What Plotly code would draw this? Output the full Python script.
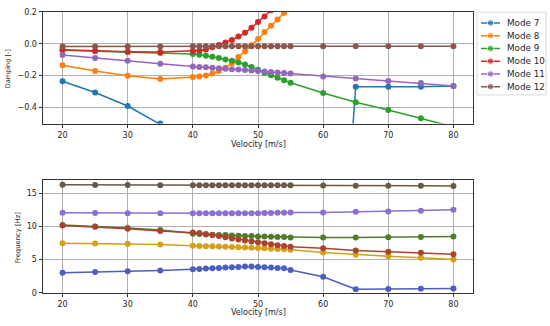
import plotly.graph_objects as go

velocity = [20, 25, 30, 35, 40, 41, 42, 43, 44, 45, 46, 47, 48, 49, 50, 51, 52, 53, 54, 55, 60, 65, 70, 75, 80]

mode_names = ["Mode 7", "Mode 8", "Mode 9", "Mode 10", "Mode 11", "Mode 12"]

damp7 = [-0.235, -0.305, -0.39, -0.50, -0.62, -0.65, -0.68, -0.72, -0.76, -0.80, -0.85, -0.90, -0.95,
         -1.00, -1.06, -1.12, -1.18, -1.25, -1.32, -1.40, -3.10, -0.27, -0.27, -0.27, -0.265]
damp8 = [-0.135, -0.17, -0.20, -0.22, -0.209, -0.205, -0.199, -0.187, -0.171, -0.15, -0.122, -0.083, -0.049,
         -0.01, 0.03, 0.073, 0.112, 0.152, 0.193, 0.235, 0.45, 0.6, 0.7, 0.75, 0.8]
damp9 = [-0.041, -0.046, -0.052, -0.058, -0.065, -0.069, -0.075, -0.081, -0.089, -0.098, -0.106, -0.118, -0.13,
         -0.146, -0.163, -0.181, -0.197, -0.213, -0.228, -0.244, -0.309, -0.366, -0.415, -0.467, -0.52]
damp10 = [-0.037, -0.045, -0.05, -0.052, -0.045, -0.042, -0.036, -0.022, -0.008, 0.008, 0.023, 0.045, 0.068,
          0.1, 0.136, 0.17, 0.21, 0.25, 0.29, 0.33, 0.5, 0.6, 0.7, 0.75, 0.8]
damp11 = [-0.07, -0.09, -0.107, -0.126, -0.143, -0.145, -0.147, -0.15, -0.153, -0.156, -0.159, -0.162, -0.165,
          -0.168, -0.171, -0.174, -0.177, -0.18, -0.184, -0.187, -0.205, -0.218, -0.234, -0.246, -0.264]
damp12 = [-0.018, -0.017, -0.017, -0.017, -0.016, -0.016, -0.016, -0.016, -0.016, -0.016, -0.016, -0.016, -0.016,
          -0.016, -0.016, -0.016, -0.016, -0.016, -0.016, -0.016, -0.016, -0.016, -0.016, -0.016, -0.016]

freq7 = [3.03, 3.13, 3.25, 3.37, 3.55, 3.6, 3.65, 3.7, 3.75, 3.8, 3.85, 3.9, 3.97, 3.95, 3.9, 3.85, 3.8,
         3.75, 3.7, 3.45, 2.42, 0.55, 0.58, 0.6, 0.65]
freq8 = [7.47, 7.42, 7.38, 7.28, 7.08, 7.05, 7.02, 7.0, 6.97, 6.93, 6.9, 6.86, 6.82, 6.78, 6.74, 6.7, 6.65,
         6.6, 6.55, 6.5, 6.08, 5.75, 5.52, 5.27, 5.0]
freq9 = [10.2, 10.0, 9.75, 9.45, 8.9, 8.85, 8.8, 8.75, 8.72, 8.7, 8.65, 8.6, 8.57, 8.55, 8.5, 8.47, 8.45,
         8.42, 8.4, 8.35, 8.33, 8.33, 8.38, 8.42, 8.5]
freq10 = [10.15, 9.95, 9.65, 9.3, 9.1, 9.0, 8.85, 8.7, 8.55, 8.38, 8.2, 8.05, 7.9, 7.75, 7.6, 7.45, 7.3,
          7.18, 7.05, 6.95, 6.7, 6.38, 6.2, 6.03, 5.82]
freq11 = [12.07, 12.03, 12.0, 12.0, 12.0, 12.0, 12.0, 12.0, 12.0, 12.0, 12.0, 12.0, 12.0, 12.0, 12.0, 12.02,
          12.03, 12.05, 12.07, 12.1, 12.12, 12.2, 12.26, 12.35, 12.5]
freq12 = [16.28, 16.25, 16.23, 16.22, 16.22, 16.22, 16.22, 16.22, 16.22, 16.22, 16.22, 16.22, 16.22, 16.22,
          16.22, 16.21, 16.21, 16.21, 16.2, 16.2, 16.18, 16.15, 16.12, 16.12, 16.1]

x_ticks = [20, 30, 40, 50, 60, 70, 80]
damp_ticks = [-0.4, -0.2, 0.0, 0.2]
freq_ticks = [0, 5, 10, 15]

damp_series = [damp7, damp8, damp9, damp10, damp11, damp12]
freq_series = [freq7, freq8, freq9, freq10, freq11, freq12]
top_colors = ["#1f77b4", "#ff7f0e", "#2ca02c", "#d62728", "#9467bd", "#8c564b"]
bottom_colors = ["#4c5fbe", "#d4a015", "#4e7d2b", "#a8442f", "#8b6fd3", "#6b5947"]

FONT = "DejaVu Sans"
TXT = "#262626"
fig = go.Figure()

for name, ys, c in zip(mode_names, damp_series, top_colors):
    fig.add_trace(go.Scatter(x=velocity, y=ys, name=name, mode="lines+markers",
                             line=dict(color=c, width=1.5), marker=dict(color=c, size=6),
                             xaxis="x", yaxis="y", showlegend=False))
for name, ys, c in zip(mode_names, freq_series, bottom_colors):
    fig.add_trace(go.Scatter(x=velocity, y=ys, name=name, mode="lines+markers",
                             line=dict(color=c, width=1.5), marker=dict(color=c, size=6),
                             xaxis="x2", yaxis="y2", showlegend=False))

W, H = 550, 326
xl, xr = 43 / W, 473 / W
top_dom = [1 - 123 / H, 1 - 8 / H]
bot_dom = [1 - 297 / H, 1 - 181 / H]

# legend box (pixel units inside a hidden helper axis)
LG_L, LG_R, LG_T, LG_B = 477.0, 546.0, 8.5, 93.5
row_gap = 13.1
first_row = 19.5
annotations = []
for i, (name, c) in enumerate(zip(mode_names, top_colors)):
    yrow = first_row + i * row_gap
    fig.add_trace(go.Scatter(x=[LG_L + 4, LG_L + 13.5, LG_L + 23], y=[yrow] * 3, mode="lines+markers",
                             line=dict(color=c, width=1.5), marker=dict(color=c, size=[0, 6.5, 0]),
                             xaxis="x3", yaxis="y3", showlegend=False, hoverinfo="skip"))
    annotations.append(dict(text=name, x=LG_L + 27.5, y=yrow, xref="x3", yref="y3", showarrow=False,
                            xanchor="left", yanchor="middle", font=dict(family=FONT, size=8.8, color=TXT)))

axis_common = dict(showgrid=True, gridcolor="#b0b0b0", gridwidth=0.8, showline=True, mirror=True,
                   linecolor="#333333", linewidth=1, ticks="outside", ticklen=3.5, tickcolor="#333333",
                   tickwidth=0.8, zeroline=False, tickfont=dict(family=FONT, size=8, color=TXT))
hidden = dict(visible=False, showgrid=False, zeroline=False, fixedrange=True)

annotations += [
    dict(text="Velocity [m/s]", x=(xl + xr) / 2, y=1 - 145 / H, xref="paper", yref="paper",
         showarrow=False, font=dict(family=FONT, size=8, color=TXT), xanchor="center", yanchor="middle"),
    dict(text="Velocity [m/s]", x=(xl + xr) / 2, y=1 - 317 / H, xref="paper", yref="paper",
         showarrow=False, font=dict(family=FONT, size=8, color=TXT), xanchor="center", yanchor="middle"),
    dict(text="Damping [-]", x=8 / W, y=1 - 67 / H, xref="paper", yref="paper", textangle=-90,
         showarrow=False, font=dict(family=FONT, size=6.5, color=TXT), xanchor="center", yanchor="middle"),
    dict(text="Frequency [Hz]", x=18 / W, y=1 - 240 / H, xref="paper", yref="paper", textangle=-90,
         showarrow=False, font=dict(family=FONT, size=6.8, color=TXT), xanchor="center", yanchor="middle"),
]

fig.update_layout(
    width=W, height=H, margin=dict(l=0, r=0, t=0, b=0),
    paper_bgcolor="white", plot_bgcolor="white",
    font=dict(family=FONT, size=8, color=TXT),
    xaxis=dict(domain=[xl, xr], range=[17, 83], tickvals=x_ticks, anchor="y", **axis_common),
    yaxis=dict(domain=top_dom, range=[-0.5, 0.2], tickvals=damp_ticks, tickformat=".1f", anchor="x", **axis_common),
    xaxis2=dict(domain=[xl, xr], range=[17, 83], tickvals=x_ticks, anchor="y2", **axis_common),
    yaxis2=dict(domain=bot_dom, range=[0, 17], tickvals=freq_ticks, anchor="x2", **axis_common),
    xaxis3=dict(domain=[LG_L / W, LG_R / W], range=[LG_L, LG_R], anchor="y3", **hidden),
    yaxis3=dict(domain=[1 - LG_B / H, 1 - LG_T / H], range=[LG_B, LG_T], anchor="x3", **hidden),
    showlegend=False,
    shapes=[dict(type="rect", xref="paper", yref="paper", x0=LG_L / W, x1=LG_R / W,
                 y0=1 - LG_B / H, y1=1 - LG_T / H, line=dict(color="#d9d9d9", width=1),
                 fillcolor="rgba(255,255,255,0.8)", layer="below")],
    annotations=annotations,
)

fig.write_html("out.html", config={"displayModeBar": False},
               post_script="document.body.style.margin='0';document.body.style.overflow='hidden';")
